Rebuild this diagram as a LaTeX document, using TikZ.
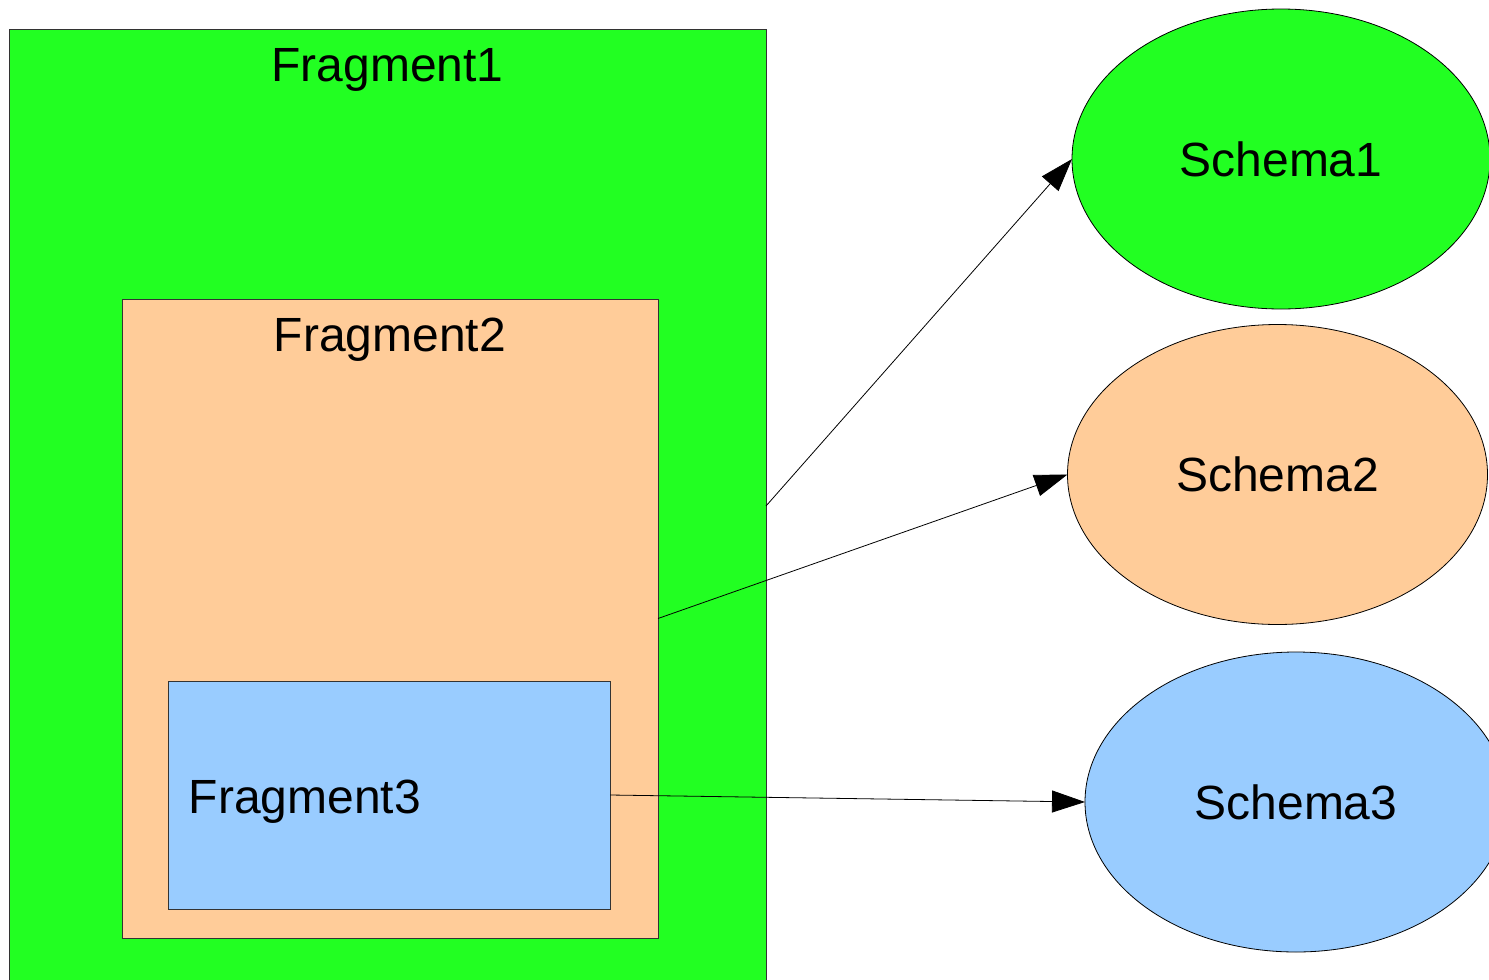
\documentclass[tikz,border=0pt]{standalone}
\usepackage{fontspec}
\setmainfont{Liberation Sans}
\usetikzlibrary{shapes.geometric,arrows.meta}
\definecolor{fragA}{HTML}{22FF22}
\definecolor{fragB}{HTML}{FFCC99}
\definecolor{fragC}{HTML}{99CCFF}
\begin{document}
\begin{tikzpicture}[x=1pt,y=-1pt,
  frag/.style={draw=black!80,line width=0.8pt,rectangle,inner sep=0pt,outer sep=0pt},
  schema/.style={draw=black,line width=0.8pt,ellipse,inner sep=0pt,outer sep=0pt,
    minimum height=300pt,font=\fontsize{48}{58}\selectfont},
  fragtext/.style={font=\fontsize{48}{58}\selectfont,inner sep=0pt},
  link/.style={line width=0.8pt,-{Triangle[length=33pt,width=22pt]}}]
\useasboundingbox (0,0) rectangle (1489,980);
\clip (0,0) rectangle (1489,980);

% nested fragments
\node[frag,fill=fragA,minimum width=757pt,minimum height=954pt] (f1) at (387.5,506) {};
\node[frag,fill=fragB,minimum width=536pt,minimum height=639pt] (f2) at (390,618.5) {};
\node[frag,fill=fragC,minimum width=441.5pt,minimum height=228pt] (f3) at (389.25,795) {};

\node[fragtext,anchor=base] (t1) at (387.5,81.7) {Fragment1};
\node[fragtext,anchor=base] (t2) at (390,351.7) {Fragment2};
\node[fragtext,anchor=base west] (t3) at (188.5,813.3) {Fragment3};

% schemas
\node[schema,fill=fragA,minimum width=418pt] (s1) at (1281,159) {Schema1};
\node[schema,fill=fragB,minimum width=420pt] (s2) at (1277.5,474.5) {Schema2};
\node[schema,fill=fragC,minimum width=422pt] (s3) at (1296,802) {Schema3};

% fragment -> schema links
\draw[link] (f1.east) -- (s1.west);
\draw[link] (f2.east) -- (s2.west);
\draw[link] (f3.east) -- (s3.west);
\end{tikzpicture}
\end{document}
